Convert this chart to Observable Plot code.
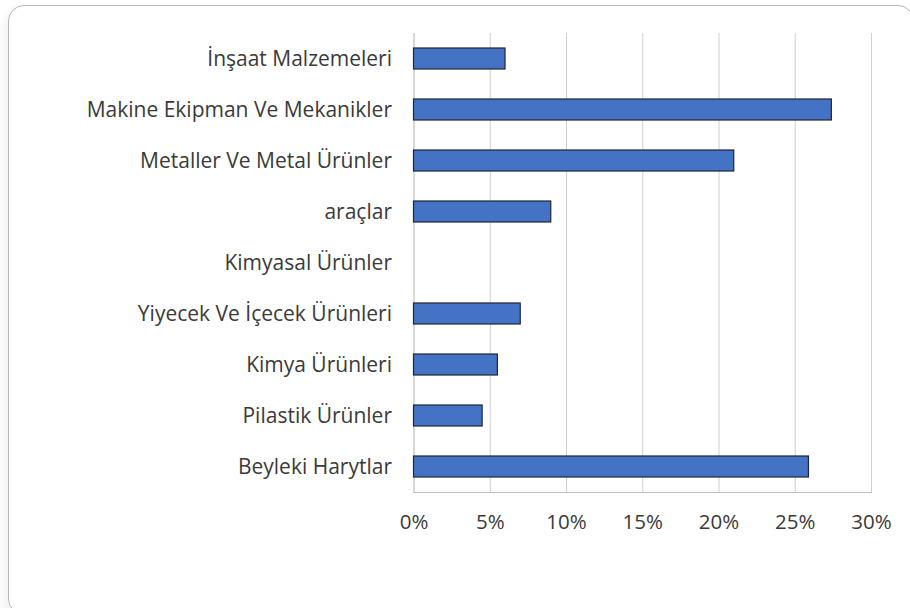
<!DOCTYPE html>
<html>
<head>
<meta charset="utf-8">
<script src="https://cdn.jsdelivr.net/npm/d3@7"></script>
<script src="https://cdn.jsdelivr.net/npm/@observablehq/plot@0.6"></script>
<style>
  html, body { margin: 0; padding: 0; background: #ffffff; }
  body { width: 910px; height: 608px; position: relative; overflow: hidden; font-family: "Open Sans", sans-serif; }
  #card {
    position: absolute; left: 8px; top: 5px; width: 906px; height: 610px;
    border: 1.5px solid #b8b8b8; border-radius: 16px; box-sizing: border-box;
    box-shadow: -4px 6px 10px rgba(0,0,0,0.06);
    background: #ffffff;
  }
  #chart { position: absolute; left: 0; top: 0; }
</style>
</head>
<body>
<div id="card"></div>
<div id="chart"></div>
<script>
const categories = [
  "İnşaat Malzemeleri",
  "Makine Ekipman Ve Mekanikler",
  "Metaller Ve Metal Ürünler",
  "araçlar",
  "Kimyasal Ürünler",
  "Yiyecek Ve İçecek Ürünleri",
  "Kimya Ürünleri",
  "Pilastik Ürünler",
  "Beyleki Harytlar"
];
const shares = [0.06, 0.274, 0.21, 0.09, 0, 0.07, 0.055, 0.045, 0.259];
const tickValues = [0, 0.05, 0.10, 0.15, 0.20, 0.25, 0.30];
const tickLabels = ["0%", "5%", "10%", "15%", "20%", "25%", "30%"];

const data = categories.map((c, i) => ({category: c, value: shares[i]}));

const chart = Plot.plot({
  width: 910,
  height: 560,
  marginTop: 33,
  marginBottom: 68,
  marginLeft: 413.5,
  marginRight: 39,
  style: {fontFamily: "'Open Sans', sans-serif", fontSize: "21px", color: "#3a3a3a", background: "transparent"},
  x: {domain: [0, 0.30], ticks: tickValues},
  y: {domain: categories, paddingInner: 0.59, paddingOuter: 0.295},
  marks: [
    Plot.gridX(tickValues.slice(1), {stroke: "#d0d0d0", strokeOpacity: 1, strokeWidth: 1}),
    Plot.frame({anchor: "left", stroke: "#b0b0b0"}),
    Plot.frame({anchor: "bottom", stroke: "#c0c0c0"}),
    Plot.barX(data, {
      x: "value", y: "category",
      fill: "#4472C4",
      stroke: d => d.value > 0 ? "#1e2633" : "none",
      strokeWidth: 1.2
    }),
    Plot.axisY({tickSize: 0, tickPadding: 22, label: null, fill: "#3a3a3a", fontSize: 21}),
    Plot.axisX(tickValues, {
      tickSize: 0, tickPadding: 22, label: null, fill: "#3a3a3a", fontSize: 20.5,
      tickFormat: d => tickLabels[tickValues.indexOf(d)]
    })
  ]
});
document.getElementById("chart").appendChild(chart);
</script>
</body>
</html>
